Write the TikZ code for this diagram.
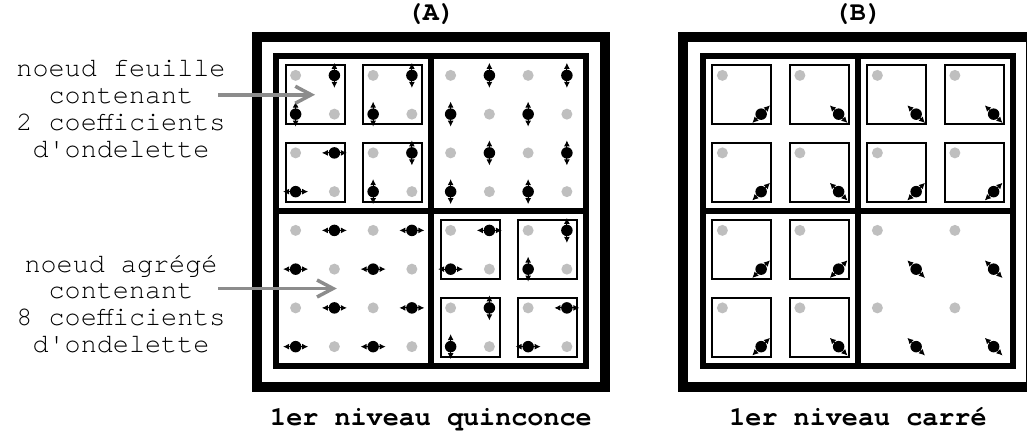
\documentclass[tikz,border=0pt]{standalone}
\usepackage{fontspec}
\setmonofont{TeX Gyre Cursor}
\usetikzlibrary{arrows.meta,positioning,calc}

% one coefficient: black dot with its two arrow tips
\newcommand{\coefdot}[3]{%
  \draw[coefarrow] ([shift={(#3:12.5)}]#1,#2) -- ([shift={(#3:-12.5)}]#1,#2);
  \fill (#1,#2) circle (5.75);}

\begin{document}
\begin{tikzpicture}[x=0.5pt,y=-0.5pt,
  frame/.style={draw, line width=5pt, minimum width=174pt, minimum height=175pt, inner sep=0},
  quad/.style={draw, line width=3pt, minimum size=77.5pt, inner sep=0},
  leafbox/.style={draw, line width=1pt, minimum size=29.5pt, inner sep=0},
  gris/.style={fill=black!25},
  coefarrow/.style={{Latex[length=3pt,width=3pt]}-{Latex[length=3pt,width=3pt]}, line width=0.5pt},
  pointer/.style={-{Straight Barb[length=8pt,width=8.5pt]}, draw=black!45, line width=1.75pt},
  lab/.style={font=\ttfamily\fontsize{13.4}{13.35}\selectfont, align=center},
  head/.style={font=\ttfamily\bfseries\fontsize{13.4}{13.35}\selectfont, anchor=base}
]
\useasboundingbox (0,0) rectangle (1027,436);

% panel A : quinconce
\node[frame] (fra) at (431,212) {};
\begin{scope}[shift={(431.25,211)}]
  \node[quad] (qa1) at (-77.5,-77.5) {};
  \node[quad] (qa2) at (77.5,-77.5) {};
  \node[quad] (qa3) at (-77.5,77.5) {};
  \node[quad] (qa4) at (77.5,77.5) {};
  \foreach \x/\y/\n in {-116.25/-116.25/la1, -38.75/-116.25/la2, -116.25/-38.75/la3, -38.75/-38.75/la4,
                        38.75/38.75/la5, 116.25/38.75/la6, 38.75/116.25/la7, 116.25/116.25/la8}
    \node[leafbox] (\n) at (\x,\y) {};
  \foreach \x/\y/\a in {-116.25/-116.25/90, -38.75/-116.25/90, -116.25/-38.75/0, -38.75/-38.75/90,
                        38.75/-116.25/90, 116.25/-116.25/90, 38.75/-38.75/90, 116.25/-38.75/90,
                        -116.25/38.75/0, -38.75/38.75/0, -116.25/116.25/0, -38.75/116.25/0,
                        38.75/38.75/0, 116.25/38.75/90, 38.75/116.25/90, 116.25/116.25/0}{
    \begin{scope}[shift={(\x,\y)}]
      \fill[gris] (-19.375,-19.375) circle (5.5);
      \fill[gris] (19.375,19.375) circle (5.5);
      \coefdot{19.375}{-19.375}{\a}
      \coefdot{-19.375}{19.375}{\a}
    \end{scope}}
\end{scope}

% panel B : carre
\node[frame] (frb) at (857,212) {};
\begin{scope}[shift={(858,211)}]
  \node[quad] (qb1) at (-77.5,-77.5) {};
  \node[quad] (qb2) at (77.5,-77.5) {};
  \node[quad] (qb3) at (-77.5,77.5) {};
  \node[quad] (qb4) at (77.5,77.5) {};
  \foreach \x/\y/\n in {-116.25/-116.25/lb1, -38.75/-116.25/lb2, -116.25/-38.75/lb3, -38.75/-38.75/lb4,
                        38.75/-116.25/lb5, 116.25/-116.25/lb6, 38.75/-38.75/lb7, 116.25/-38.75/lb8,
                        -116.25/38.75/lb9, -38.75/38.75/lb10, -116.25/116.25/lb11, -38.75/116.25/lb12}
    \node[leafbox] (\n) at (\x,\y) {};
  \foreach \x/\y/\a in {-116.25/-116.25/-45, -38.75/-116.25/45, -116.25/-38.75/-45, -38.75/-38.75/45,
                        38.75/-116.25/45, 116.25/-116.25/45, 38.75/-38.75/-45, 116.25/-38.75/-45,
                        -116.25/38.75/-45, -38.75/38.75/-45, -116.25/116.25/-45, -38.75/116.25/45,
                        38.75/38.75/45, 116.25/38.75/45, 38.75/116.25/45, 116.25/116.25/45}{
    \begin{scope}[shift={(\x,\y)}]
      \fill[gris] (-19.375,-19.375) circle (5.5);
      \coefdot{19.375}{19.375}{\a}
    \end{scope}}
\end{scope}

% titles
\node[head] (ta) at (431,20) {(A)};
\node[head] (tb) at (858,20) {(B)};
\node[head] (ba) at (431,425) {1er niveau quinconce};
\node[head] (bb) at (858,425) {1er niveau carré};

% legend
\node[lab] (feuille) at (121,109) {noeud feuille\\contenant\\2 coefficients\\d'ondelette};
\node[lab] (agrege) at (121,304) {noeud agrégé\\contenant\\8 coefficients\\d'ondelette};
\coordinate (pf) at (218,0 |- la1.center);
\coordinate (pa) at (218,0 |- qa3.center);
\draw[pointer] (pf) -- (la1.center);
\draw[pointer] (pa) -- ([xshift=-8.5pt]qa3.center);
\end{tikzpicture}
\end{document}
